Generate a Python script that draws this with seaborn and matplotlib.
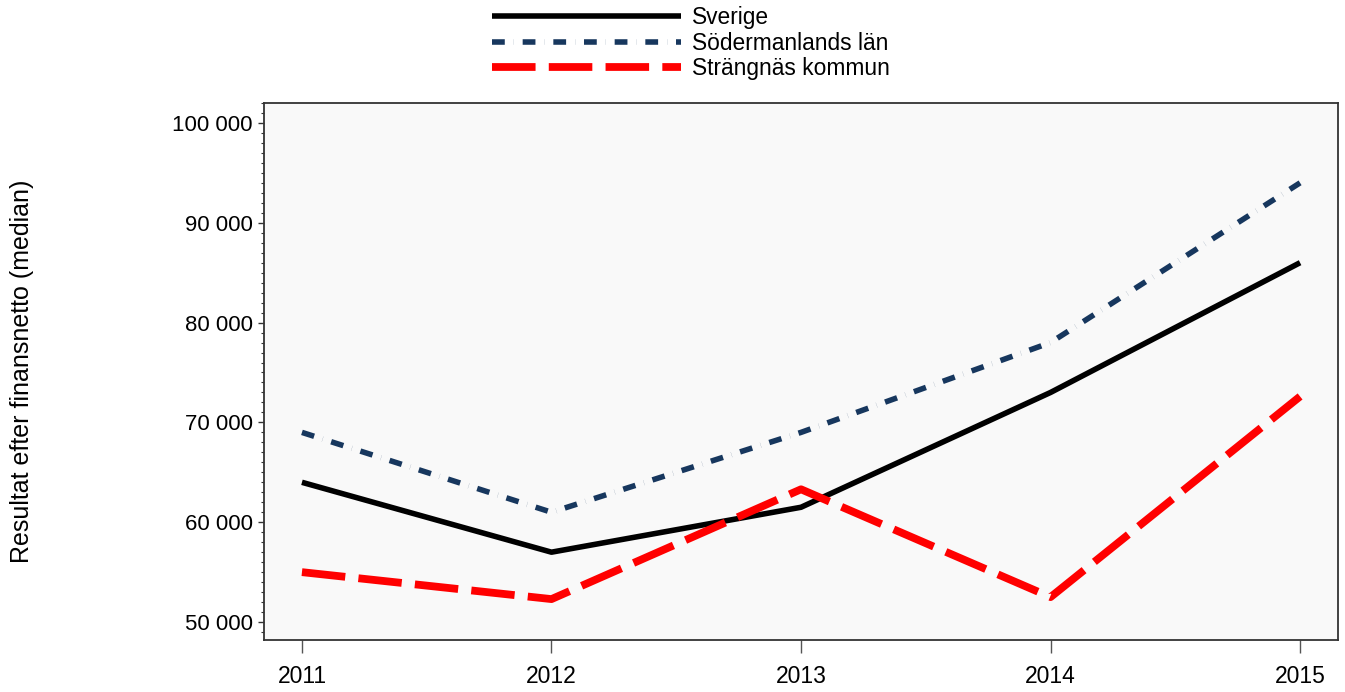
import matplotlib
matplotlib.use("Agg")
import matplotlib.pyplot as plt
import matplotlib.ticker as mticker
import pandas as pd
import seaborn as sns

years = [2011, 2012, 2013, 2014, 2015]
sverige = [64000, 57000, 61500, 73000, 86000]
sodermanland = [69000, 61000, 69000, 78000, 94000]
strangnas = [55000, 52300, 63300, 52500, 72600]

series_names = ["Sverige", "Södermanlands län", "Strängnäs kommun"]
series_values = [sverige, sodermanland, strangnas]

df = pd.concat(
    [pd.DataFrame({"year": years, "value": vals, "area": name})
     for name, vals in zip(series_names, series_values)],
    ignore_index=True,
)

styles = {
    "Sverige": dict(color="black", lw=4.0, dashes=None),
    "Södermanlands län": dict(color="#17375e", lw=4.0, dashes=(2.3, 1.6, 0.02, 1.6)),
    "Strängnäs kommun": dict(color="#ff0000", lw=5.6, dashes=(5.6, 1.7)),
}

sns.set_theme(style="ticks")
plt.rcParams["font.family"] = ["Liberation Sans", "DejaVu Sans"]
plt.rcParams["text.color"] = "black"
plt.rcParams["xtick.color"] = "black"
plt.rcParams["ytick.color"] = "black"

fig = plt.figure(figsize=(13.45, 6.92), dpi=100)
ax = fig.add_axes([0.1963, 0.0751, 0.7985, 0.7761])
ax.set_facecolor("#f9f9f9")

for name in series_names:
    st = styles[name]
    sub = df[df["area"] == name]
    sns.lineplot(data=sub, x="year", y="value", ax=ax, color=st["color"],
                 linewidth=st["lw"], label=name, legend=False)
    ln = ax.get_lines()[-1]
    if st["dashes"] is not None:
        ln.set_dashes(st["dashes"])
    ln.set_solid_capstyle("butt")
    ln.set_dash_capstyle("butt")

ax.set_xlim(2010.848, 2015.152)
ax.set_ylim(48200, 102000)
ax.set_xticks(years)
ax.yaxis.set_major_locator(mticker.MultipleLocator(10000))
ax.yaxis.set_minor_locator(mticker.MultipleLocator(1000))
ax.yaxis.set_major_formatter(mticker.FuncFormatter(lambda v, p: f"{int(v):,}".replace(",", " ")))
ax.tick_params(axis="y", which="major", length=4, width=1, labelsize=16, pad=4,
               color="#333333", labelcolor="black")
ax.tick_params(axis="y", which="minor", length=2, width=0.8, color="#333333")
ax.tick_params(axis="x", which="major", length=9, width=1, labelsize=16.5, pad=9,
               color="#555555", labelcolor="black")
ax.set_xlabel("")
ax.set_ylabel("")
for sp in ax.spines.values():
    sp.set_visible(True)
    sp.set_color("#333333")
    sp.set_linewidth(1.3)

fig.text(22 / 1345, 0.463, "Resultat efter finansnetto (median)", rotation=90,
         ha="center", va="center", fontsize=18, color="black")

handles = ax.get_lines()
fig.legend(handles, series_names, loc="upper center", bbox_to_anchor=(691 / 1345, 1.014),
           frameon=False, fontsize=16.4, handlelength=8.3, labelspacing=0.1,
           handletextpad=0.5, borderpad=0.2)

fig.savefig("out.png", dpi=100)
